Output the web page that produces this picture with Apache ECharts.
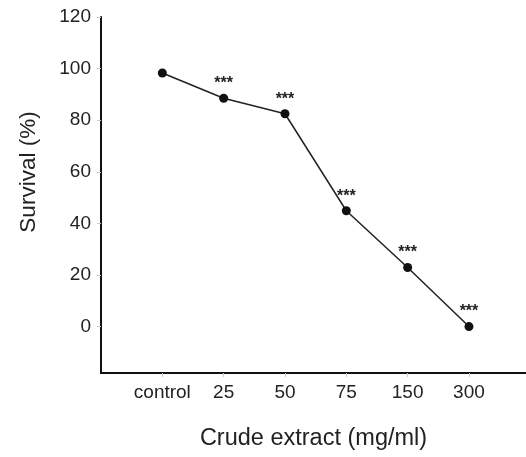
<!DOCTYPE html>
<html>
<head>
<meta charset="utf-8">
<script src="https://cdn.jsdelivr.net/npm/echarts@6/dist/echarts.min.js"></script>
<style>
  html, body { margin: 0; padding: 0; background: #fff; }
  #chart { width: 526px; height: 457px; }
</style>
</head>
<body>
<div id="chart"></div>
<script>
const categories = ['control', '25', '50', '75', '150', '300'];
const survival = [98.3, 88.5, 82.5, 44.9, 22.9, 0];
const significance = ['', '***', '***', '***', '***', '***'];
const yTicks = [0, 20, 40, 60, 80, 100, 120];

const FONT = '"Liberation Sans", Arial, Helvetica, sans-serif';
const chart = echarts.init(document.getElementById('chart'));

const points = categories.map((c, i) => ({
  value: [i, survival[i]],
  label: { show: significance[i] !== '', formatter: significance[i] }
}));

chart.setOption({
  animation: false,
  backgroundColor: '#ffffff',
  grid: { left: 101, right: 0, top: 17, bottom: 84, containLabel: false },
  xAxis: {
    type: 'value',
    min: -1,
    max: 5.93,
    name: 'Crude extract (mg/ml)',
    nameLocation: 'middle',
    nameGap: 54,
    nameTextStyle: { fontFamily: FONT, fontSize: 23.5, color: '#222' },
    axisLine: { show: true, onZero: false, lineStyle: { color: '#111', width: 2 } },
    axisTick: { show: true, customValues: categories.map((c, i) => i), length: 4, lineStyle: { color: '#ccc', width: 1 } },
    axisLabel: {
      customValues: categories.map((c, i) => i),
      formatter: v => categories[Math.round(v)] || '',
      fontFamily: FONT, fontSize: 19, color: '#222', margin: 10
    },
    splitLine: { show: false }
  },
  yAxis: {
    type: 'value',
    min: -18,
    max: 120,
    name: 'Survival (%)',
    nameLocation: 'middle',
    nameGap: 61,
    nameRotate: 90,
    nameTextStyle: { fontFamily: FONT, fontSize: 22.5, color: '#222', padding: [0, 0, 0, 46] },
    axisLine: { show: true, onZero: false, lineStyle: { color: '#111', width: 2 } },
    axisTick: { show: true, customValues: yTicks, length: 4, lineStyle: { color: '#ccc', width: 1 } },
    axisLabel: {
      customValues: yTicks,
      fontFamily: FONT, fontSize: 19, color: '#222', margin: 10
    },
    splitLine: { show: false }
  },
  series: [{
    type: 'line',
    data: points,
    symbol: 'circle',
    symbolSize: 9,
    itemStyle: { color: '#111' },
    lineStyle: { color: '#222', width: 1.5 },
    label: {
      position: 'top',
      distance: 2,
      fontFamily: FONT,
      fontSize: 16,
      fontWeight: 'bold',
      color: '#222'
    }
  }]
});
</script>
</body>
</html>
